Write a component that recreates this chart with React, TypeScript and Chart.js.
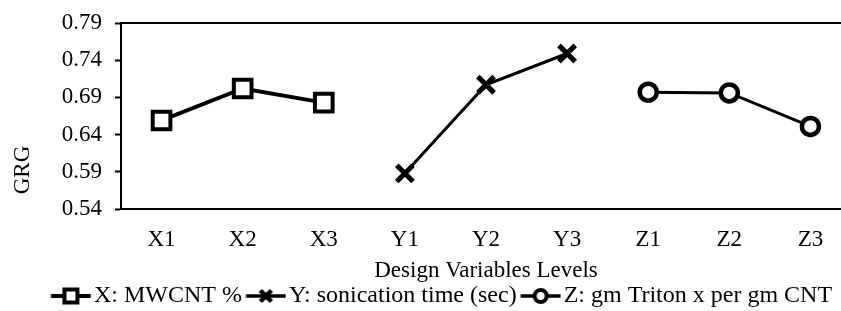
import React, { useEffect, useRef } from "react";
import { Chart, registerables } from "chart.js";

Chart.register(...registerables);

const categories = ["X1", "X2", "X3", "Y1", "Y2", "Y3", "Z1", "Z2", "Z3"];
const seriesX = [0.659, 0.702, 0.683, null, null, null, null, null, null];
const seriesY = [null, null, null, 0.588, 0.707, 0.749, null, null, null];
const seriesZ = [null, null, null, null, null, null, 0.697, 0.696, 0.651];
const seriesNames = ["X: MWCNT %", "Y: sonication time (sec)", "Z: gm Triton x per gm CNT"];
const yTicks = [0.54, 0.59, 0.64, 0.69, 0.74, 0.79];
const yAxisTitle = "GRG";
const xAxisTitle = "Design Variables Levels";

const FONT = '"Liberation Serif", "Times New Roman", serif';
const FS = 23;
const FS_L = 24;
const CANVAS_W = 870;
const CANVAS_H = 311;
const PLOT_LEFT = 121;
const PLOT_RIGHT = 851;
const PLOT_TOP = 23;
const PLOT_BOTTOM = 209;
const PAD_LEFT = 32;
const PAD_BOTTOM = -7;

const LEG_PAD = 4;
const ICON_W = 40;
const ICON_GAP = 3;
const PW = ICON_W + ICON_GAP - FS_L / 2;
const IMG_HALF = Math.ceil(Math.max(PW / 2, ICON_W - PW / 2));
const ICON_START = IMG_HALF - PW / 2;

function makeIcon(kind: string): HTMLCanvasElement {
  const c = document.createElement("canvas");
  c.width = IMG_HALF * 2;
  c.height = 22;
  const ctx = c.getContext("2d")!;
  const x0 = ICON_START;
  const cx = x0 + ICON_W / 2;
  ctx.strokeStyle = "#000";
  ctx.lineWidth = kind === "rect" ? 4 : 3.5;
  ctx.beginPath();
  ctx.moveTo(x0, 11);
  ctx.lineTo(x0 + ICON_W, 11);
  ctx.stroke();
  if (kind === "rect") {
    ctx.fillStyle = "#fff";
    ctx.lineWidth = 4;
    ctx.fillRect(cx - 6.5, 4.5, 13, 13);
    ctx.strokeRect(cx - 6.5, 4.5, 13, 13);
  } else if (kind === "cross") {
    ctx.lineWidth = 4.5;
    ctx.beginPath();
    ctx.moveTo(cx - 5.5, 5.5);
    ctx.lineTo(cx + 5.5, 16.5);
    ctx.moveTo(cx + 5.5, 5.5);
    ctx.lineTo(cx - 5.5, 16.5);
    ctx.stroke();
  } else {
    ctx.fillStyle = "#fff";
    ctx.lineWidth = 4;
    ctx.beginPath();
    ctx.arc(cx, 11, 6, 0, Math.PI * 2);
    ctx.fill();
    ctx.stroke();
  }
  return c;
}

export default function App() {
  const ref = useRef<HTMLCanvasElement | null>(null);

  useEffect(() => {
    if (!ref.current) return;
    const icons = [makeIcon("rect"), makeIcon("cross"), makeIcon("circle")];

    const frameAndTitle = {
      id: "frameAndTitle",
      afterDraw(chart: any) {
        const { ctx, chartArea } = chart;
        ctx.save();
        ctx.strokeStyle = "#000";
        ctx.lineWidth = 2;
        ctx.strokeRect(chartArea.left, chartArea.top, chartArea.right - chartArea.left, chartArea.bottom - chartArea.top);
        ctx.translate(23, 170);
        ctx.rotate(-Math.PI / 2);
        ctx.fillStyle = "#000";
        ctx.font = `${FS}px ${FONT}`;
        ctx.textAlign = "center";
        ctx.textBaseline = "middle";
        ctx.fillText(yAxisTitle, 0, 0);
        ctx.restore();
      },
    };

    const chart = new Chart(ref.current, {
      type: "line",
      data: {
        labels: categories,
        datasets: [
          {
            label: seriesNames[0],
            data: seriesX,
            borderColor: "#000",
            backgroundColor: "#fff",
            borderWidth: 4,
            pointStyle: "rect",
            pointRadius: 12.5,
            pointBorderWidth: 4,
            pointBackgroundColor: "#fff",
            pointBorderColor: "#000",
            spanGaps: false,
          },
          {
            label: seriesNames[1],
            data: seriesY,
            borderColor: "#000",
            backgroundColor: "#fff",
            borderWidth: 3,
            pointStyle: "crossRot",
            pointRadius: 11.5,
            pointBorderWidth: 5,
            pointBorderColor: "#000",
            spanGaps: false,
          },
          {
            label: seriesNames[2],
            data: seriesZ,
            borderColor: "#000",
            backgroundColor: "#fff",
            borderWidth: 3,
            pointStyle: "circle",
            pointRadius: 8.5,
            pointBorderWidth: 4.5,
            pointBackgroundColor: "#fff",
            pointBorderColor: "#000",
            spanGaps: false,
          },
        ],
      },
      plugins: [frameAndTitle],
      options: {
        responsive: false,
        animation: false,
        layout: { padding: { left: PAD_LEFT, right: CANVAS_W - PLOT_RIGHT, top: PLOT_TOP, bottom: PAD_BOTTOM } },
        plugins: {
          tooltip: { enabled: false },
          legend: {
            position: "bottom",
            labels: {
              usePointStyle: true,
              pointStyleWidth: PW,
              padding: LEG_PAD,
              color: "#000",
              font: { family: FONT, size: FS_L },
              generateLabels: () =>
                seriesNames.map((name, i) => ({
                  text: name,
                  pointStyle: icons[i],
                  fillStyle: "#fff",
                  strokeStyle: "#000",
                  lineWidth: 0,
                  hidden: false,
                  datasetIndex: i,
                  fontColor: "#000",
                })),
            },
          },
        },
        scales: {
          x: {
            type: "category",
            offset: true,
            afterFit: (scale: any) => {
              const legH = scale.chart.legend ? scale.chart.legend.height : 0;
              scale.height = CANVAS_H - PAD_BOTTOM - PLOT_BOTTOM - legH;
            },
            grid: { display: false, drawTicks: false, tickLength: 0 },
            border: { display: true, color: "#000", width: 2 },
            ticks: {
              color: "#000",
              font: { family: FONT, size: FS },
              padding: 17,
              maxRotation: 0,
              autoSkip: false,
            },
            title: {
              display: true,
              text: xAxisTitle,
              color: "#000",
              font: { family: FONT, size: FS, lineHeight: 0.8 },
              padding: { top: 0, bottom: 0 },
            },
          },
          y: {
            min: yTicks[0],
            max: yTicks[yTicks.length - 1],
            afterBuildTicks: (scale: any) => {
              scale.ticks = yTicks.map((v) => ({ value: v }));
            },
            afterFit: (scale: any) => {
              scale.width = PLOT_LEFT - PAD_LEFT;
              scale.paddingTop = 0;
              scale.paddingBottom = 0;
            },
            grid: {
              display: true,
              drawOnChartArea: false,
              drawTicks: true,
              tickLength: 6,
              tickColor: "#000",
              tickWidth: 2,
            },
            border: { display: true, color: "#000", width: 2 },
            ticks: {
              color: "#000",
              font: { family: FONT, size: FS },
              padding: 13,
              autoSkip: false,
              callback: (v: any) => Number(v).toFixed(2),
            },
          },
        },
      },
    });
    return () => chart.destroy();
  }, []);

  return (
    <div style={{ position: "fixed", left: 0, top: 0, width: 841, height: CANVAS_H, overflow: "hidden", background: "#fff" }}>
      <canvas ref={ref} width={CANVAS_W} height={CANVAS_H} style={{ display: "block", width: CANVAS_W, height: CANVAS_H }} />
    </div>
  );
}
